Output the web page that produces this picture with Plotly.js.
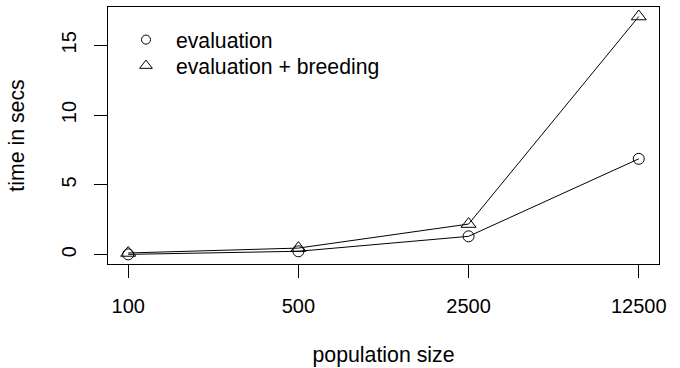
<!DOCTYPE html>
<html>
<head>
<meta charset="utf-8">
<script src="https://cdn.plot.ly/plotly-3.0.1.min.js"></script>
<style>html,body{margin:0;padding:0;background:#fff;}#chart{width:680px;height:368px;}</style>
</head>
<body>
<div id="chart"></div>
<script>
var populationSizes = [100, 500, 2500, 12500];
var tickLabels = ["100", "500", "2500", "12500"];
var evaluation = [0.03, 0.25, 1.32, 6.87];
var evaluationBreeding = [0.13, 0.48, 2.2, 17.06];
var yTicks = [0, 5, 10, 15];
var seriesNames = ["evaluation", "evaluation + breeding"];

var font = "Liberation Sans, Arial, Helvetica, sans-serif";
var traces = [
  {x: populationSizes, y: evaluation, mode: "lines+markers", showlegend: false,
   line: {color: "black", width: 1},
   marker: {symbol: "circle-open", size: 11, color: "black", line: {width: 1, color: "black"}}},
  {x: populationSizes, y: evaluationBreeding, mode: "lines+markers", showlegend: false,
   line: {color: "black", width: 1},
   marker: {symbol: "triangle-up-open", size: 13, color: "black", line: {width: 1, color: "black"}}},
  {x: [null], y: [null], mode: "markers", name: seriesNames[0], legend: "legend",
   marker: {symbol: "circle-open", size: 9, color: "black", line: {width: 1, color: "black"}}},
  {x: [null], y: [null], mode: "markers", name: seriesNames[1], legend: "legend2",
   marker: {symbol: "triangle-up-open", size: 11, color: "black", line: {width: 1, color: "black"}}}
];

var legendCommon = {xanchor: "left", yanchor: "top", bgcolor: "rgba(0,0,0,0)",
                    borderwidth: 0, font: {size: 21.2}, itemwidth: 50};

var layout = {
  width: 680, height: 368,
  margin: {l: 108, r: 21, t: 7, b: 104},
  paper_bgcolor: "white", plot_bgcolor: "white",
  font: {family: font, size: 20, color: "black"},
  xaxis: {
    type: "log", range: [1.917, 4.180],
    tickvals: populationSizes, ticktext: tickLabels,
    tickfont: {size: 20},
    ticks: "outside", ticklen: 13, tickcolor: "black", tickwidth: 1,
    showline: true, mirror: true, linecolor: "black", linewidth: 1,
    showgrid: false, zeroline: false,
    ticklabelstandoff: 11,
    title: {text: "population size", font: {size: 21.3}, standoff: 31}
  },
  yaxis: {
    range: [-0.66, 17.74],
    tickvals: yTicks,
    tickfont: {size: 20},
    ticks: "outside", ticklen: 13, tickcolor: "black", tickwidth: 1,
    tickangle: -90,
    showline: true, mirror: true, linecolor: "black", linewidth: 1,
    showgrid: false, zeroline: false,
    ticklabelstandoff: 10,
    title: {text: "time in secs", font: {size: 21.3}, standoff: 27}
  },
  showlegend: true,
  legend: Object.assign({x: 0.0145, y: 0.952}, legendCommon),
  legend2: Object.assign({x: 0.0145, y: 0.851}, legendCommon)
};

Plotly.newPlot("chart", traces, layout, {displayModeBar: false, staticPlot: true});
</script>
</body>
</html>
